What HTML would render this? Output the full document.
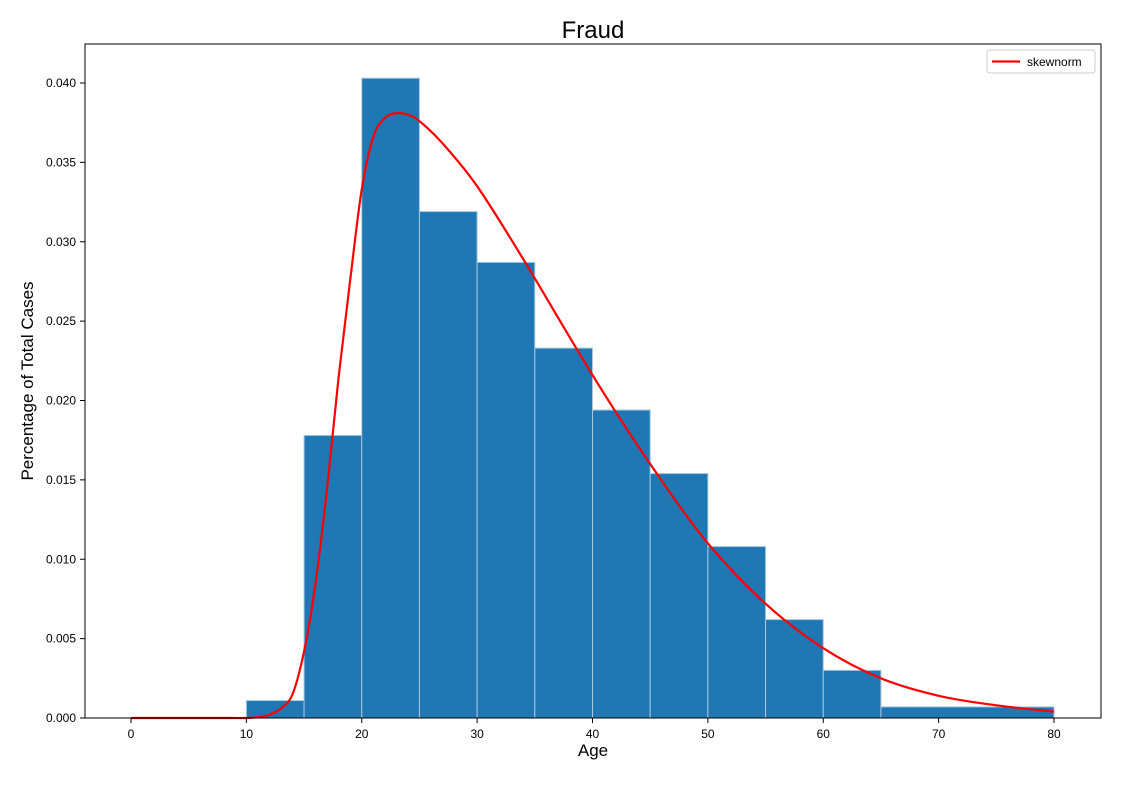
<!DOCTYPE html>
<html><head><meta charset="utf-8"><style>
body{margin:0;background:#fff;font-family:"Liberation Sans","DejaVu Sans",sans-serif}
svg{display:block}
</style></head><body>
<svg id="c" width="1122" height="800" xmlns="http://www.w3.org/2000/svg"></svg>
<script>
const binEdges=[10,15,20,25,30,35,40,45,50,55,60,65,80];
const binValues=[0.0011,0.0178,0.0403,0.0319,0.0287,0.0233,0.0194,0.0154,0.0108,0.0062,0.0030,0.0007];
const curveX=[0,2,4,6,8,10,11,12,13,14,15,16,17,18,19,20,21,22,23,24,25,27,30,34,40,45,50,55,60,65,70,75,80];
const curveY=[0,0,0,0,0,0,0.00005,0.0002,0.0006,0.0015,0.0042,0.0085,0.0145,0.0215,0.0276,0.0333,0.0366,0.0378,0.0381,0.0380,0.0376,0.0362,0.0335,0.0289,0.0216,0.0160,0.0110,0.0072,0.0044,0.0025,0.0014,0.0008,0.0004];
const xTicks=[0,10,20,30,40,50,60,70,80];
const yTicks=[0,0.005,0.010,0.015,0.020,0.025,0.030,0.035,0.040];
const L=85,R=1101,T=44,B=718;
const X=v=>131+v*(1054-131)/80;
const Y=v=>718-v*(718-83)/0.04;
const svg=document.getElementById('c');
const NS='http://www.w3.org/2000/svg';
function mk(tag,attrs,parent){const e=document.createElementNS(NS,tag);for(const k in attrs)e.setAttribute(k,attrs[k]);(parent||svg).appendChild(e);return e;}
let t=mk('text',{x:593,y:38,'text-anchor':'middle','font-size':24});t.textContent='Fraud';


const bars=mk('g',{});


binValues.forEach((v,i)=>{
 const r=mk('rect',{x:X(binEdges[i]),y:Y(v),width:X(binEdges[i+1])-X(binEdges[i]),height:Y(0)-Y(v),fill:'#1f77b4',stroke:'#a9c8e0','stroke-width':1},bars);
 
 
});
const pts=curveX.map((x,i)=>[X(x),Y(curveY[i])]);
let d='M'+pts[0][0]+','+pts[0][1];
for(let i=0;i<pts.length-1;i++){
 const p0=pts[Math.max(0,i-1)],p1=pts[i],p2=pts[i+1],p3=pts[Math.min(pts.length-1,i+2)];
 const c1=[p1[0]+(p2[0]-p0[0])/6,p1[1]+(p2[1]-p0[1])/6],c2=[p2[0]-(p3[0]-p1[0])/6,p2[1]-(p3[1]-p1[1])/6];
 d+=` C${c1[0]},${c1[1]} ${c2[0]},${c2[1]} ${p2[0]},${p2[1]}`;
}
const cv=mk('path',{d:d,fill:'none',stroke:'#ff0000','stroke-width':2.2});


const fr=mk('rect',{x:L,y:T,width:R-L,height:B-T,fill:'none',stroke:'#000','stroke-width':1});


xTicks.forEach(v=>{
 mk('line',{x1:X(v),x2:X(v),y1:B,y2:B+5,stroke:'#000'});
 const tx=mk('text',{x:X(v),y:B+20,'text-anchor':'middle','font-size':12});tx.textContent=v;
 
 
});
yTicks.forEach(v=>{
 mk('line',{x1:L-5,x2:L,y1:Y(v),y2:Y(v),stroke:'#000'});
 const tx=mk('text',{x:L-9,y:Y(v)+4,'text-anchor':'end','font-size':12});tx.textContent=v.toFixed(3);
 
 
});
t=mk('text',{x:593,y:756,'text-anchor':'middle','font-size':17});t.textContent='Age';


t=mk('text',{x:33,y:381,'text-anchor':'middle','font-size':17,transform:'rotate(-90 33 381)'});t.textContent='Percentage of Total Cases';


const lg=mk('g',{});


mk('rect',{x:987,y:50,width:108,height:23,rx:3,fill:'#fff',stroke:'#ccc'},lg);
mk('line',{x1:992,x2:1020,y1:61.5,y2:61.5,stroke:'#ff0000','stroke-width':2.2},lg);
t=mk('text',{x:1027,y:66,'font-size':12},lg);t.textContent='skewnorm';


</script>
</body></html>
